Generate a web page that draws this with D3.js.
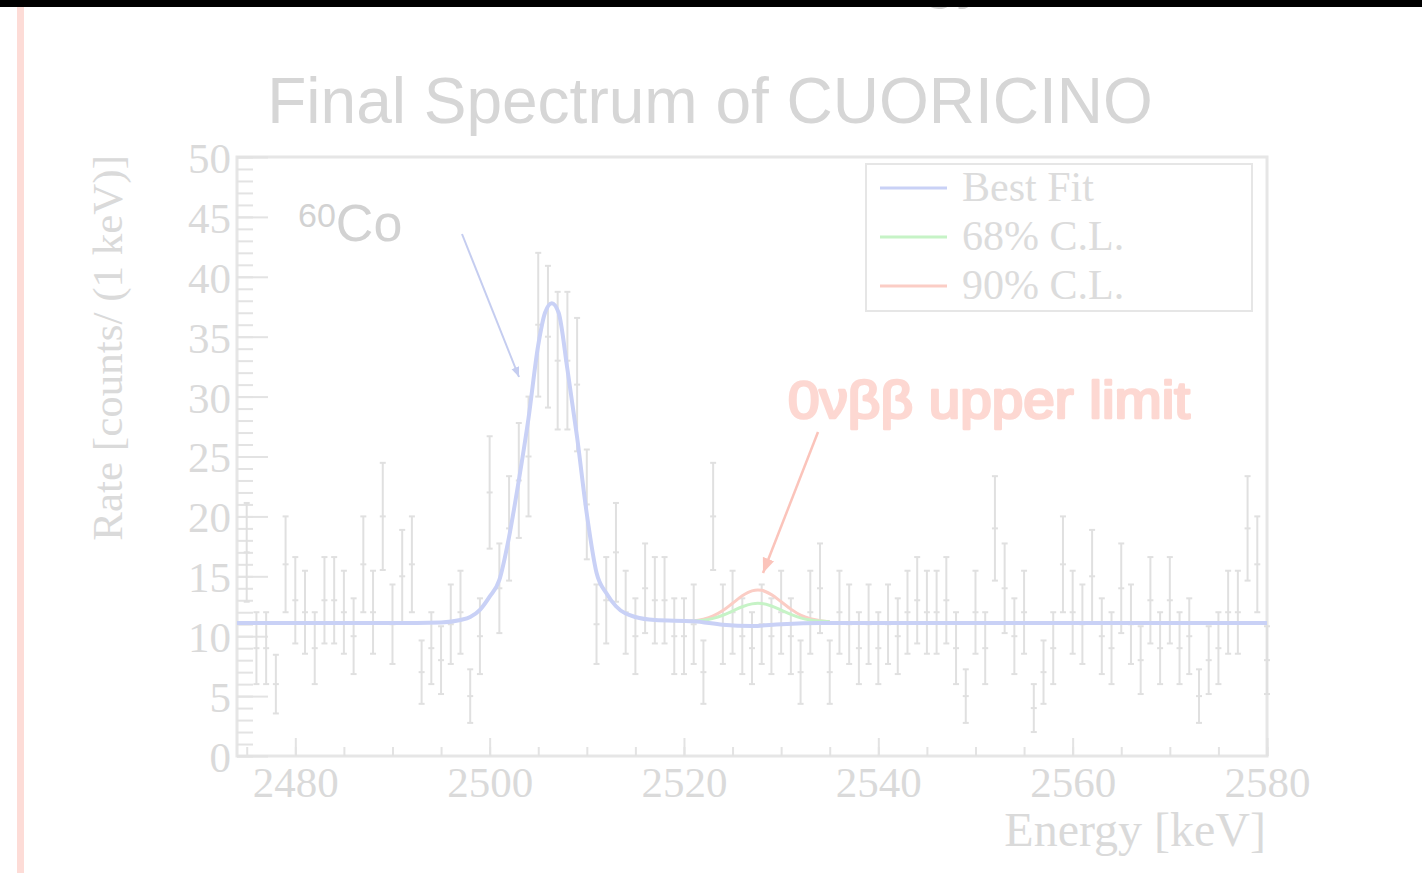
<!DOCTYPE html>
<html>
<head>
<meta charset="utf-8">
<script src="https://cdnjs.cloudflare.com/ajax/libs/d3/7.8.5/d3.min.js"></script>
<style>
  body { margin: 0; background: #fff; }
  svg { display: block; }
</style>
</head>
<body>
<div id="graph"></div>
<script>
// bins of 1 keV, counts (error = sqrt(n))
var energies = [2475,2476,2477,2478,2479,2480,2481,2482,2483,2484,2485,2486,2487,2488,2489,
  2490,2491,2492,2493,2494,2495,2496,2497,2498,2499,2500,2501,2502,2503,2504,2505,2506,2507,
  2508,2509,2510,2511,2512,2513,2514,2515,2516,2517,2518,2519,2520,2521,2522,2523,2524,2525,
  2526,2527,2528,2529,2530,2531,2532,2533,2534,2535,2536,2537,2538,2539,2540,2541,2542,2543,
  2544,2545,2546,2547,2548,2549,2550,2551,2552,2553,2554,2555,2556,2557,2558,2559,2560,2561,
  2562,2563,2564,2565,2566,2567,2568,2569,2570,2571,2572,2573,2574,2575,2576,2577,2578,2579,2580];
var counts = [17,9,9,6,16,13,12,9,13,13,12,10,16,12,20,
  11,15,16,7,9,8,11,12,5,10,22,14,19,23,25,36,35,33,
  33,31,21,11,13,17,12,10,14,13,13,10,10,11,7,20,11,12,
  10,9,11,10,12,10,7,12,14,7,12,11,9,11,9,11,10,12,
  13,12,12,13,9,5,12,9,19,14,10,12,4,7,9,16,12,11,
  15,10,9,14,11,8,13,9,13,9,10,5,8,9,12,12,19,16,8];

// best fit curve
var fitEnergy = [2474,2490,2495,2497,2498,2499,2500,2501,2502,2503,2504,2505,2505.7,2506.4,2507.1,
  2508,2509,2510,2511,2512,2513,2515,2517,2521,2524,2527,2530,2534,2580];
var fitRate = [11.1,11.1,11.15,11.35,11.6,12.2,13.3,14.7,18.3,23.0,28.2,34.3,37.0,37.8,37.0,
  32.3,26.6,20.2,15.3,13.6,12.5,11.6,11.35,11.25,10.95,10.85,11.0,11.1,11.1];

// confidence level curves
var clEnergy = [2520,2521,2522,2523,2524,2525,2526,2527,2527.6,2528,2529,2530,2531,2532,2533,2534,2535];
var cl68 = [11.25,11.27,11.33,11.49,11.75,12.1,12.46,12.7,12.75,12.73,12.52,12.18,11.82,11.53,11.35,11.26,11.2];
var cl90 = [11.25,11.28,11.42,11.69,12.14,12.75,13.37,13.78,13.86,13.83,13.47,12.88,12.26,11.76,11.46,11.3,11.2];

var xTicks = [2480,2500,2520,2540,2560,2580];
var yTicks = [0,5,10,15,20,25,30,35,40,45,50];
var legendLabels = ["Best Fit", "68% C.L.", "90% C.L."];
var legendColors = ["#c9d1f6", "#c6f3c6", "#fbcdc5"];

var svg = d3.select("#graph")
  .append("svg")
  .attr("width", 1422)
  .attr("height", 873);

var x = d3.scaleLinear().domain([2474, 2580]).range([237, 1267]);
var y = d3.scaleLinear().domain([0, 50]).range([756, 157]);

var serif = "'Liberation Serif', 'Times New Roman', serif";
var sans = "'Liberation Sans', Arial, Helvetica, sans-serif";

// slide decoration
svg.append("rect").attr("x", 0).attr("y", 0).attr("width", 1422).attr("height", 873).attr("fill", "#fff");
svg.append("text")
  .attr("x", 922).attr("y", -4)
  .attr("font-family", sans).attr("font-size", 62)
  .attr("fill", "#cfcfcf")
  .text("gy");
svg.append("rect").attr("x", 0).attr("y", 0).attr("width", 1422).attr("height", 7).attr("fill", "#000");
svg.append("rect").attr("x", 17).attr("y", 7).attr("width", 7).attr("height", 866).attr("fill", "#fddcd7");

// title
svg.append("text")
  .attr("x", 710).attr("y", 123)
  .attr("text-anchor", "middle")
  .attr("font-family", sans).attr("font-size", 64)
  .attr("fill", "#d6d6d6")
  .text("Final Spectrum of CUORICINO");

// frame
svg.append("rect")
  .attr("x", x(2474)).attr("y", y(50))
  .attr("width", x(2580) - x(2474)).attr("height", y(0) - y(50))
  .attr("fill", "none").attr("stroke", "#e6e6e6").attr("stroke-width", 3);

// y axis: major + minor ticks
var yMinor = d3.axisRight(y).tickValues(d3.range(0, 51, 1)).tickSize(16).tickFormat("");
svg.append("g").attr("transform", "translate(" + x(2474) + ",0)").call(yMinor);
var yMajor = d3.axisRight(y).tickValues(yTicks).tickSize(31).tickFormat("");
svg.append("g").attr("transform", "translate(" + x(2474) + ",0)").call(yMajor);
var yLab = d3.axisLeft(y).tickValues(yTicks).tickSize(0).tickPadding(6);
svg.append("g").attr("class", "ylab").attr("transform", "translate(" + x(2474) + ",0)").call(yLab);

// x axis
var xMinor = d3.axisTop(x).tickValues(d3.range(2475, 2581, 5)).tickSize(9).tickFormat("");
svg.append("g").attr("transform", "translate(0," + y(0) + ")").call(xMinor);
var xMajor = d3.axisTop(x).tickValues(xTicks).tickSize(18).tickFormat("");
svg.append("g").attr("transform", "translate(0," + y(0) + ")").call(xMajor);
var xLab = d3.axisBottom(x).tickValues(xTicks).tickSize(0).tickPadding(8).tickFormat(d3.format("d"));
svg.append("g").attr("class", "xlab").attr("transform", "translate(0," + y(0) + ")").call(xLab);

svg.selectAll(".domain").remove();
svg.selectAll(".tick line").attr("stroke", "#e3e3e3").attr("stroke-width", 2);
svg.selectAll(".ylab text, .xlab text")
  .attr("font-family", serif).attr("font-size", 43).attr("fill", "#dadada");
svg.selectAll(".ylab text").attr("dy", "0.36em");
svg.selectAll(".xlab text").attr("dy", "0.76em");

// axis titles
svg.append("text")
  .attr("transform", "translate(122,155) rotate(-90)")
  .attr("text-anchor", "end")
  .attr("font-family", serif).attr("font-size", 43)
  .attr("fill", "#dadada")
  .text("Rate [counts/ (1 keV)]");
svg.append("text")
  .attr("x", 1266).attr("y", 846)
  .attr("text-anchor", "end")
  .attr("font-family", serif).attr("font-size", 48)
  .attr("fill", "#dadada")
  .text("Energy [keV]");

// error bars
var bars = svg.append("g").attr("stroke", "#e0e0e0").attr("stroke-width", 2);
var pts = energies.map(function(e, i) { return {e: e, n: counts[i]}; });
bars.selectAll(".eb").data(pts).enter().append("line")
  .attr("x1", d => x(d.e)).attr("x2", d => x(d.e))
  .attr("y1", d => y(d.n + Math.sqrt(d.n))).attr("y2", d => y(d.n - Math.sqrt(d.n)));
bars.selectAll(".cap1").data(pts).enter().append("line")
  .attr("x1", d => x(d.e) - 3).attr("x2", d => x(d.e) + 3)
  .attr("y1", d => y(d.n + Math.sqrt(d.n))).attr("y2", d => y(d.n + Math.sqrt(d.n)));
bars.selectAll(".cap2").data(pts).enter().append("line")
  .attr("x1", d => x(d.e) - 3).attr("x2", d => x(d.e) + 3)
  .attr("y1", d => y(d.n - Math.sqrt(d.n))).attr("y2", d => y(d.n - Math.sqrt(d.n)));
bars.selectAll(".mid").data(pts).enter().append("line")
  .attr("x1", d => x(d.e) - 3).attr("x2", d => x(d.e) + 3)
  .attr("y1", d => y(d.n)).attr("y2", d => y(d.n));

// curves
var line = d3.line().x(d => x(d[0])).y(d => y(d[1])).curve(d3.curveMonotoneX);
svg.append("path")
  .attr("d", line(clEnergy.map((e, i) => [e, cl90[i]])))
  .attr("fill", "none").attr("stroke", legendColors[2]).attr("stroke-width", 3);
svg.append("path")
  .attr("d", line(clEnergy.map((e, i) => [e, cl68[i]])))
  .attr("fill", "none").attr("stroke", legendColors[1]).attr("stroke-width", 3);
svg.append("path")
  .attr("d", line(fitEnergy.map((e, i) => [e, fitRate[i]])))
  .attr("fill", "none").attr("stroke", legendColors[0]).attr("stroke-width", 4);

// legend
svg.append("rect")
  .attr("x", 866).attr("y", 164).attr("width", 386).attr("height", 147)
  .attr("fill", "#fff").attr("stroke", "#e6e6e6").attr("stroke-width", 2);
var leg = svg.selectAll(".leg").data(legendLabels).enter().append("g")
  .attr("transform", (d, i) => "translate(880," + (188 + i * 49) + ")");
leg.append("line")
  .attr("x1", 0).attr("x2", 67).attr("y1", 0).attr("y2", 0)
  .attr("stroke", (d, i) => legendColors[i]).attr("stroke-width", 3);
leg.append("text")
  .attr("x", 82).attr("y", 13)
  .attr("font-family", serif).attr("font-size", 42)
  .attr("fill", "#dcdcdc")
  .text(d => d);

// annotations
var defs = svg.append("defs");
defs.append("marker").attr("id", "headBlue")
  .attr("viewBox", "0 0 10 10").attr("refX", 10).attr("refY", 5)
  .attr("markerWidth", 5).attr("markerHeight", 5).attr("orient", "auto")
  .append("path").attr("d", "M0,1L10,5L0,9z").attr("fill", "#c5cdf0");
defs.append("marker").attr("id", "headRed")
  .attr("viewBox", "0 0 10 10").attr("refX", 10).attr("refY", 5)
  .attr("markerWidth", 6).attr("markerHeight", 6).attr("orient", "auto")
  .append("path").attr("d", "M0,1L10,5L0,9z").attr("fill", "#fbc4bb");

svg.append("line")
  .attr("x1", 462).attr("y1", 234).attr("x2", 519).attr("y2", 377)
  .attr("stroke", "#c5cdf0").attr("stroke-width", 2)
  .attr("marker-end", "url(#headBlue)");
svg.append("line")
  .attr("x1", 818).attr("y1", 432).attr("x2", 763).attr("y2", 573)
  .attr("stroke", "#fbc4bb").attr("stroke-width", 2.5)
  .attr("marker-end", "url(#headRed)");

var co = svg.append("text")
  .attr("x", 298).attr("y", 241)
  .attr("font-family", sans).attr("fill", "#d2d2d2");
co.append("tspan").attr("font-size", 34).attr("dy", -14).text("60");
co.append("tspan").attr("font-size", 52).attr("dy", 14).text("Co");

// bold faked with a stroke on the regular face
svg.append("text")
  .attr("x", 788).attr("y", 418)
  .attr("font-family", sans)
  .attr("font-size", 51)
  .attr("textLength", 402).attr("lengthAdjust", "spacingAndGlyphs")
  .attr("fill", "#fdd8d2").attr("stroke", "#fdd8d2").attr("stroke-width", 2.6)
  .attr("stroke-linejoin", "round")
  .text("0\u03bd\u03b2\u03b2 upper limit");
</script>
</body>
</html>
